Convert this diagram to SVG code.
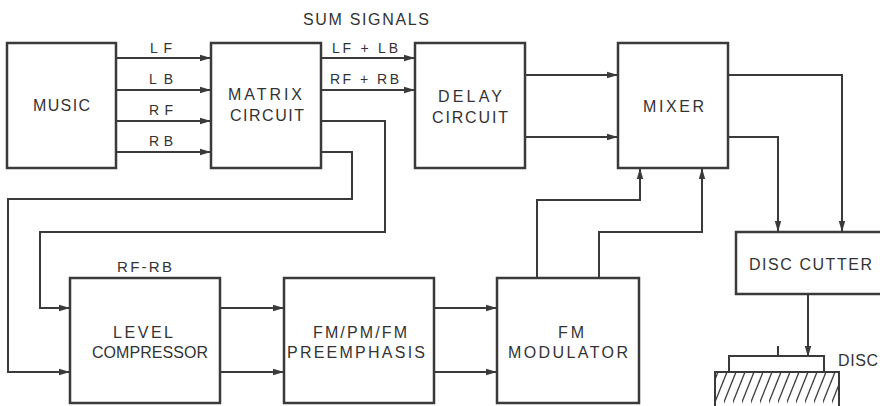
<svg xmlns="http://www.w3.org/2000/svg" width="880" height="406" viewBox="0 0 880 406">
<style>
.box{fill:none;stroke:#3a3a3a;stroke-width:2.5}
.ln{fill:none;stroke:#3a3a3a;stroke-width:2;stroke-linejoin:miter}
.ar{marker-end:url(#ah)}
text{font-family:"Liberation Sans",Arial,sans-serif;fill:#333;font-size:16px}
.sm{font-size:14px}
</style>
<defs>
<marker id="ah" markerUnits="userSpaceOnUse" markerWidth="12" markerHeight="8" viewBox="0 0 12 8" refX="11" refY="4" orient="auto">
<path d="M0,0.8 L11,4 L0,7.2 Z" fill="#3a3a3a"/>
</marker>
<pattern id="hatch" patternUnits="userSpaceOnUse" width="9" height="40" x="715" y="372">
<line x1="-4" y1="40" x2="16" y2="-10" stroke="#3a3a3a" stroke-width="1.3"/>
<line x1="-13" y1="40" x2="7" y2="-10" stroke="#3a3a3a" stroke-width="1.3"/>
</pattern>
</defs>

<text x="303" y="25" textLength="126" lengthAdjust="spacing">SUM SIGNALS</text>

<g id="connectors">
<path class="ln ar" d="M116,58 H211"/>
<path class="ln ar" d="M116,90 H211"/>
<path class="ln ar" d="M116,121 H211"/>
<path class="ln ar" d="M116,152 H211"/>
<path class="ln ar" d="M321,58 H415"/>
<path class="ln ar" d="M321,90 H415"/>
<path class="ln ar" d="M321,121 H385 V232 H40 V308 H70"/>
<path class="ln ar" d="M321,152 H352 V199 H8 V372 H70"/>
<path class="ln ar" d="M525,75 H618"/>
<path class="ln ar" d="M525,137 H618"/>
<path class="ln ar" d="M728,75 H842 V232"/>
<path class="ln ar" d="M728,137 H778 V232"/>
<path class="ln ar" d="M537,278 V200 H640 V168"/>
<path class="ln ar" d="M599,278 V232 H702 V168"/>
<path class="ln ar" d="M220,308 H284"/>
<path class="ln ar" d="M220,372 H284"/>
<path class="ln ar" d="M434,308 H497"/>
<path class="ln ar" d="M434,372 H497"/>
<path class="ln ar" d="M808,294 V357"/>
<text class="sm" x="150" y="53" textLength="22" lengthAdjust="spacing">LF</text>
<text class="sm" x="149" y="84" textLength="24" lengthAdjust="spacing">LB</text>
<text class="sm" x="149" y="115" textLength="24" lengthAdjust="spacing">RF</text>
<text class="sm" x="149" y="146" textLength="24" lengthAdjust="spacing">RB</text>
<text class="sm" x="332" y="53" textLength="66" lengthAdjust="spacing">LF + LB</text>
<text class="sm" x="330" y="84" textLength="69" lengthAdjust="spacing">RF + RB</text>
<text style="font-size:15px" x="117" y="272" textLength="55" lengthAdjust="spacing">RF-RB</text>
</g>

<g id="music">
<rect class="box" x="7" y="43" width="109" height="125"/>
<text x="33" y="111" textLength="57" lengthAdjust="spacing">MUSIC</text>
</g>
<g id="matrix">
<rect class="box" x="211" y="43" width="110" height="125"/>
<text x="228" y="100" textLength="74" lengthAdjust="spacing">MATRIX</text>
<text x="230" y="121" textLength="74" lengthAdjust="spacing">CIRCUIT</text>
</g>
<g id="delay">
<rect class="box" x="415" y="43" width="110" height="125"/>
<text x="438" y="102" textLength="64" lengthAdjust="spacing">DELAY</text>
<text x="432" y="123" textLength="76" lengthAdjust="spacing">CIRCUIT</text>
</g>
<g id="mixer">
<rect class="box" x="618" y="43" width="110" height="125"/>
<text x="643" y="112" textLength="61" lengthAdjust="spacing">MIXER</text>
</g>
<g id="level">
<rect class="box" x="70" y="278" width="150" height="125"/>
<text x="113" y="338" textLength="60" lengthAdjust="spacing">LEVEL</text>
<text x="92" y="358" textLength="116" lengthAdjust="spacing">COMPRESSOR</text>
</g>
<g id="preemph">
<rect class="box" x="284" y="278" width="150" height="125"/>
<text x="313" y="338" textLength="94" lengthAdjust="spacing">FM/PM/FM</text>
<text x="287" y="358" textLength="138" lengthAdjust="spacing">PREEMPHASIS</text>
</g>
<g id="fmmod">
<rect class="box" x="497" y="278" width="142" height="125"/>
<text x="558" y="338" textLength="26" lengthAdjust="spacing">FM</text>
<text x="508" y="358" textLength="120" lengthAdjust="spacing">MODULATOR</text>
</g>
<g id="disccutter">
<rect class="box" x="736" y="232" width="160" height="62"/>
<text x="749" y="270" textLength="123" lengthAdjust="spacing">DISC CUTTER</text>
</g>
<g id="disc">
<path class="ln" d="M729,372 V356 H824 V372"/>
<path class="ln" d="M778,346 V356"/>
<rect x="715" y="372" width="124" height="40" fill="url(#hatch)"/>
<path class="ln" d="M715,410 V372 H839 V410"/>
<text x="838" y="366" textLength="40" lengthAdjust="spacing">DISC</text>
</g>
</svg>
